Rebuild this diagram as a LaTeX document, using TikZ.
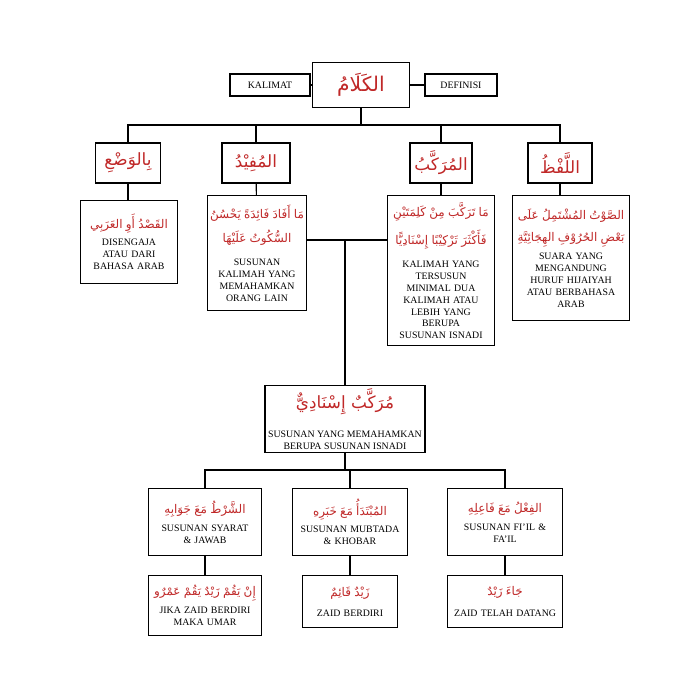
\documentclass[tikz,border=0pt]{standalone}
\usepackage{fontspec}
\setmainfont{Liberation Serif}
\newfontfamily\arabfont[Script=Arabic]{DejaVu Sans}
\TeXXeTstate=1
\newcommand{\artxt}[1]{{\color{arred}\arabfont\beginR #1\endR}}
\newcommand{\arsmall}[1]{{\fontsize{8.5}{11}\selectfont\artxt{#1}}}
\definecolor{arred}{RGB}{192,40,40}
\tikzset{
  box/.style={draw, thick, fill=white, align=center, inner sep=2pt, font=\fontsize{7}{8.5}\selectfont},
  link/.style={thick}
}
\begin{document}
\begin{tikzpicture}[x=0.025cm,y=-0.025cm]
\useasboundingbox (0,0) rectangle (700,700);

% top
\node[box, minimum width=97*0.025cm, minimum height=45*0.025cm] (kalam) at (361,85) {\artxt{\Large الكَلَامُ}};
\node[box, minimum width=80*0.025cm, minimum height=22*0.025cm] (kalimat) at (270,85) {KALIMAT};
\node[box, minimum width=72*0.025cm, minimum height=22*0.025cm] (definisi) at (461,85) {DEFINISI};
\draw[link] (kalimat) -- (kalam);
\draw[link] (kalam) -- (definisi);

% row 2
\node[box, minimum width=65*0.025cm, minimum height=40*0.025cm] (wadh) at (128,163) {\artxt{\large بِالوَضْعِ}};
\node[box, minimum width=68*0.025cm, minimum height=40*0.025cm] (mufid) at (256,163) {\artxt{\large المُفِيْدُ}};
\node[box, minimum width=62*0.025cm, minimum height=40*0.025cm] (murakkab) at (441,163) {\artxt{\large المُرَكَّبُ}};
\node[box, minimum width=64*0.025cm, minimum height=40*0.025cm] (lafzh) at (560,163) {\artxt{\large اللَّفْظُ}};
\coordinate (bar) at (361,125);
\draw[link] (kalam) -- (bar);
\draw[link] (wadh.north) |- (bar) -| (lafzh.north);
\draw[link] (mufid.north) -- (mufid.north |- bar);
\draw[link] (murakkab.north) -- (murakkab.north |- bar);

% row 3
\node[box, text width=92*0.025cm, minimum height=83*0.025cm, anchor=north] (wadhdef) at (129,200)
  {\arsmall{القَصْدُ أَوِ العَرَبِي}\\[4pt] DISENGAJA\\ ATAU DARI\\ BAHASA ARAB};
\node[box, text width=94*0.025cm, minimum height=115*0.025cm, anchor=north] (mufiddef) at (257,195)
  {\arsmall{مَا أَفَادَ فَائِدَةً يَحْسُنُ}\\[5pt] \arsmall{السُّكُوتُ عَلَيْهَا}\\[8pt] SUSUNAN\\ KALIMAH YANG\\ MEMAHAMKAN\\ ORANG LAIN};
\node[box, text width=102*0.025cm, minimum height=150*0.025cm, anchor=north] (murakkabdef) at (441,195)
  {\arsmall{مَا تَرَكَّبَ مِنْ كَلِمَتَيْنِ}\\[5pt] \arsmall{فَأَكْثَرَ تَرْكِيْبًا إِسْنَادِيًّا}\\[8pt] KALIMAH YANG\\ TERSUSUN\\ MINIMAL DUA\\ KALIMAH ATAU\\ LEBIH YANG\\ BERUPA\\ SUSUNAN ISNADI};
\node[box, text width=112*0.025cm, minimum height=125*0.025cm, anchor=north] (lafzhdef) at (571,195)
  {\arsmall{الصَّوْتُ المُشْتَمِلُ عَلَى}\\[5pt] \arsmall{بَعْضِ الحُرُوْفِ الهِجَائِيَّةِ}\\[4pt] SUARA YANG\\ MENGANDUNG\\ HURUF HIJAIYAH\\ ATAU BERBAHASA\\ ARAB};
\draw[link] (wadh) -- (wadh |- wadhdef.north);
\draw[link] (mufid) -- (mufiddef);
\draw[link] (murakkab) -- (murakkabdef);
\draw[link] (lafzh) -- (lafzh |- lafzhdef.north);

% isnadi
\node[box, minimum width=160*0.025cm, minimum height=62*0.025cm] (isnadi) at (345,419)
  {\artxt{\large مُرَكَّبٌ إِسْنَادِيٌّ}\\[10pt] SUSUNAN YANG MEMAHAMKAN\\ BERUPA SUSUNAN ISNADI};
\coordinate (join) at (345,240);
\draw[link] (mufiddef.east |- join) -- (murakkabdef.west |- join);
\draw[link] (join) -- (isnadi);

% row 4
\node[box, text width=108*0.025cm, minimum height=67*0.025cm, anchor=north] (syarat) at (205,488)
  {\arsmall{الشَّرْطُ مَعَ جَوَابِهِ}\\[4pt] SUSUNAN SYARAT\\ \& JAWAB};
\node[box, text width=110*0.025cm, minimum height=67*0.025cm, anchor=north] (mubtada) at (350,488)
  {\arsmall{المُبْتَدَأُ مَعَ خَبَرِهِ}\\[4pt] SUSUNAN MUBTADA\\ \& KHOBAR};
\node[box, text width=110*0.025cm, minimum height=67*0.025cm, anchor=north] (fiil) at (505,488)
  {\arsmall{الفِعْلُ مَعَ فَاعِلِهِ}\\[4pt] SUSUNAN FI'IL \&\\ FA'IL};
\coordinate (bar2) at (345,470);
\draw[link] (isnadi) -- (bar2);
\draw[link] (syarat.north) |- (bar2) -| (fiil.north);
\draw[link] (mubtada.north) -- (mubtada.north |- bar2);

% examples
\node[box, text width=108*0.025cm, minimum height=60*0.025cm, anchor=north] (exsyarat) at (205,575)
  {\arsmall{إِنْ يَقُمْ زَيْدٌ يَقُمْ عَمْرٌو}\\[4pt] JIKA ZAID BERDIRI\\ MAKA UMAR};
\node[box, text width=90*0.025cm, minimum height=52*0.025cm, anchor=north] (exmubtada) at (350,575)
  {\arsmall{زَيْدٌ قَائِمٌ}\\[6pt] ZAID BERDIRI};
\node[box, text width=110*0.025cm, minimum height=52*0.025cm, anchor=north] (exfiil) at (505,575)
  {\arsmall{جَاءَ زَيْدٌ}\\[6pt] ZAID TELAH DATANG};
\draw[link] (syarat) -- (exsyarat);
\draw[link] (mubtada) -- (exmubtada);
\draw[link] (fiil) -- (exfiil);
\end{tikzpicture}
\end{document}
